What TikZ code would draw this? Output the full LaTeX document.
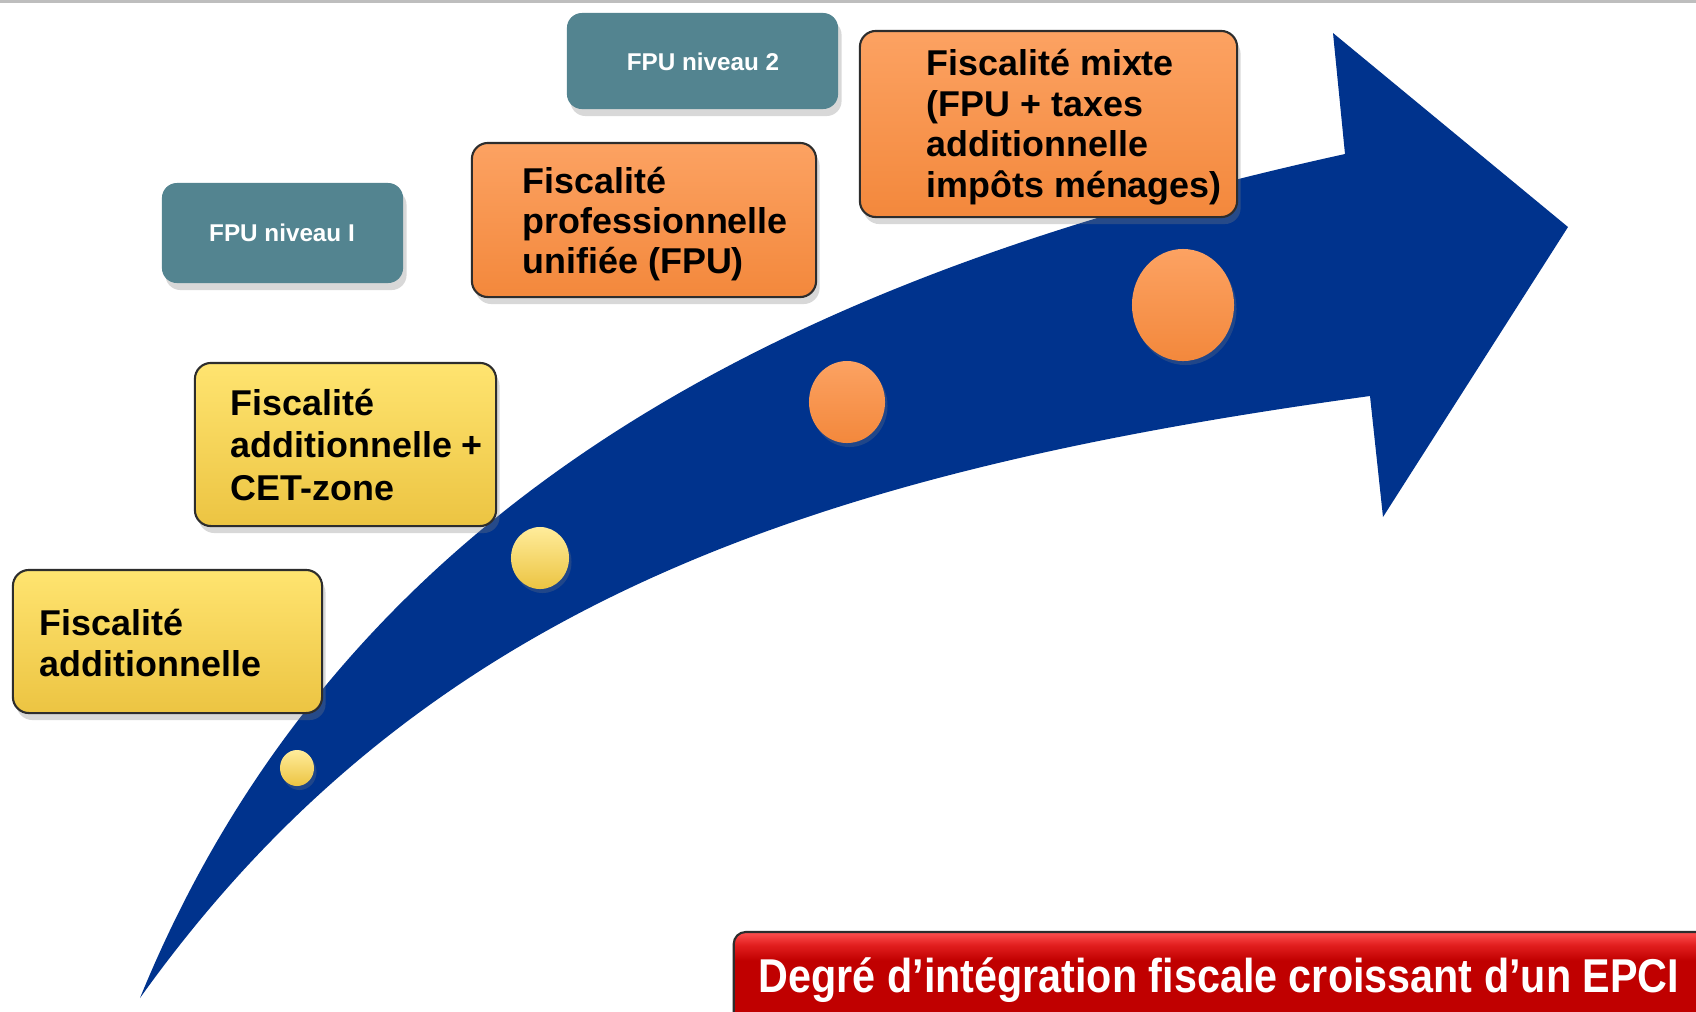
\documentclass[tikz,border=0pt]{standalone}
\usepackage{fontspec}
\setmainfont{Liberation Sans}
\usetikzlibrary{shapes.geometric,shadows}
\definecolor{arrowblue}{RGB}{0,51,141}
\definecolor{yelTop}{RGB}{255,228,112}
\definecolor{yelBot}{RGB}{236,196,66}
\definecolor{orTop}{RGB}{252,162,98}
\definecolor{orBot}{RGB}{243,136,60}
\definecolor{tealbox}{RGB}{83,132,144}
\definecolor{redDark}{RGB}{192,0,0}
\definecolor{redMid}{RGB}{225,30,30}
\definecolor{redLight}{RGB}{255,80,80}
\definecolor{boxline}{RGB}{45,45,45}
\definecolor{topline}{RGB}{190,190,190}
\pgfdeclareverticalshading{bannershade}{100bp}{color(0bp)=(redDark); color(25bp)=(redDark); color(62bp)=(redDark); color(69bp)=(redMid); color(75bp)=(redLight); color(100bp)=(redLight)}
\tikzset{
  boxbase/.style={rectangle, inner sep=0pt, line width=0.6pt,
    drop shadow={shadow xshift=0.35mm, shadow yshift=-0.7mm, opacity=0.3}},
  yelbox/.style={boxbase, rounded corners=0.16cm, draw=boxline, top color=yelTop, bottom color=yelBot},
  orbox/.style={boxbase, rounded corners=0.16cm, draw=boxline, top color=orTop, bottom color=orBot},
  tealbx/.style={boxbase, rounded corners=0.15cm, fill=tealbox},
  boxtext/.style={anchor=west, align=left, inner sep=0pt, text=black,
    font=\fontsize{10.2pt}{11.5pt}\selectfont\bfseries},
  tealtext/.style={inner sep=0pt, text=white, font=\fontsize{6.9pt}{8pt}\selectfont\bfseries},
  ballbase/.style={ellipse, inner sep=0pt,
    drop shadow={shadow xshift=0.25mm, shadow yshift=-0.4mm, opacity=0.25}},
  yelball/.style={ballbase, top color=yelTop!70!white, bottom color=yelBot},
  orball/.style={ballbase, top color=orTop, bottom color=orBot},
}
\begin{document}
\begin{tikzpicture}[x=0.01cm, y=-0.01cm]
\useasboundingbox (0,0) rectangle (1696,1011);
\fill[white] (0,0) rectangle (1696,1011);
\begin{scope}
\clip (0,0) rectangle (1696,1011);
\draw[topline, line width=0.8pt] (0,1.5) -- (1696,1.5);

% curved arrow
\fill[arrowblue]
  (140,998) .. controls (348,489) and (808,272) .. (1345,154)
  -- (1333,33) -- (1568,227) -- (1383,517) -- (1370,396)
  .. controls (815,472) and (422,603) .. (140,998)
  -- cycle;

% steps on the arrow
\node[yelball, minimum width=0.34cm, minimum height=0.36cm] (c1) at (297,768) {};
\node[yelball, minimum width=0.58cm, minimum height=0.62cm] (c2) at (540,558) {};
\node[orball, minimum width=0.76cm, minimum height=0.82cm] (c3) at (847,402) {};
\node[orball, minimum width=1.02cm, minimum height=1.12cm] (c4) at (1183,305) {};

% boxes
\node[yelbox, minimum width=3.09cm, minimum height=1.43cm] (b1) at (167.5,641.5) {};
\node[boxtext] (t1) at (39,643) {Fiscalité\\additionnelle};

\node[yelbox, minimum width=3.01cm, minimum height=1.63cm] (b2) at (345.5,444.5) {};
\node[boxtext, font=\fontsize{10.2pt}{12pt}\selectfont\bfseries] (t2) at (230,445) {Fiscalité\\additionnelle +\\CET-zone};

\node[tealbx, minimum width=2.41cm, minimum height=1.00cm] (b3) at (282.5,233) {};
\node[tealtext] (t3) at (282,233) {FPU niveau I};

\node[orbox, minimum width=3.44cm, minimum height=1.54cm] (b4) at (644,220) {};
\node[boxtext] (t4) at (522,224) {Fiscalité\\professionnelle\\unifiée (FPU)};

\node[tealbx, minimum width=2.71cm, minimum height=0.96cm] (b5) at (702.5,61) {};
\node[tealtext] (t5) at (703,62) {FPU niveau 2};

\node[orbox, minimum width=3.77cm, minimum height=1.86cm] (b6) at (1048.5,124) {};
\node[boxtext] (t6) at (926,127) {Fiscalité mixte\\(FPU + taxes\\additionnelle\\impôts ménages)};

% banner
\node[rectangle, rounded corners=0.12cm, draw=boxline, line width=0.6pt, shading=bannershade,
      minimum width=9.9cm, minimum height=1.10cm, inner sep=0pt] (ban) at (1229,987) {};
\node[inner sep=0pt, text=white, font=\fontsize{13.5pt}{15pt}\selectfont\bfseries] (bant) at (1219,980)
  {\scalebox{0.87}[1]{Degré d’intégration fiscale croissant d’un EPCI}};
\end{scope}
\end{tikzpicture}
\end{document}
